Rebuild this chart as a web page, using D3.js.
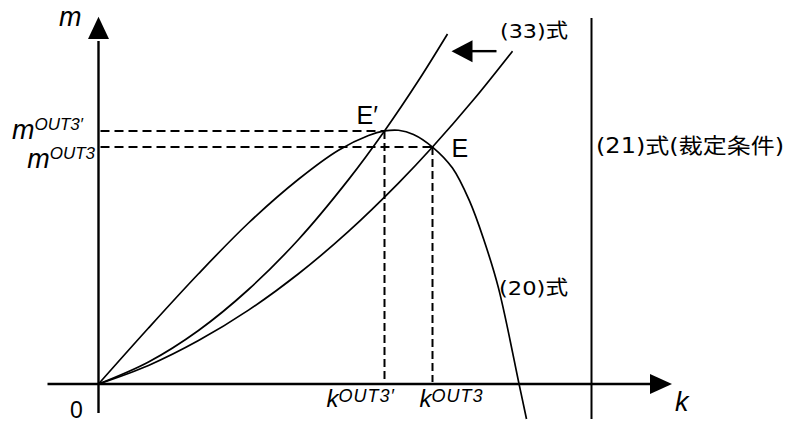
<!DOCTYPE html>
<html>
<head>
<meta charset="utf-8">
<script src="https://cdn.jsdelivr.net/npm/d3@7"></script>
<style>
  html, body { margin: 0; padding: 0; background: #fff; }
  svg { display: block; }
  .lat { font-family: "Liberation Sans", Arial, sans-serif; fill: #000; }
  .jp { font-family: "DejaVu Sans", "Noto Sans CJK JP", sans-serif; fill: #000; }
</style>
</head>
<body>
<svg id="chart" width="786" height="422"></svg>
<script>
// (20)式: m as a function of k — rises, peaks near E′, then falls steeply
const curve20K = [0, 10, 20, 30, 40, 48, 54, 57.2, 60, 63, 66.8, 70.8, 74.2, 77, 80, 84.2, 85.6];
const curve20M = [0, 16.0, 31.5, 46.0, 58.5, 66.8, 71.0, 72.3, 72.5, 71.3, 67.7, 61.7, 52.3, 41.5, 27.4, -0.6, -10.0];

// (33)式 after the shift (passes through E′)
const line33ShiftK = [0, 10, 20, 30, 40, 50, 57.2, 64, 69.8];
const line33ShiftM = [0, 6.3, 15.3, 27.0, 41.3, 58.4, 72.3, 86.7, 100.0];

// (33)式 before the shift (passes through E)
const line33K = [0, 10, 20, 30, 40, 50, 60, 66.8, 75, 82.8];
const line33M = [0, 5.3, 12.4, 21.1, 31.5, 43.6, 57.4, 67.7, 81.2, 95.1];

// Equilibria
const eqNames = ["E′", "E"];
const eqK = [57.2, 66.8];
const eqM = [72.3, 67.7];

// Tick labels at the equilibrium values
const kTickLabels = [["k", "OUT3′"], ["k", "OUT3"]];
const mTickLabels = [["m", "OUT3′"], ["m", "OUT3"]];

// (21)式: arbitrage condition, a vertical line in k
const line21K = 98.6;

const svg = d3.select("#chart");

const x = d3.scaleLinear().domain([0, 100]).range([98.5, 598.5]);
const y = d3.scaleLinear().domain([0, 100]).range([384, 34]);

const zip = (ks, ms) => ks.map((k, i) => [k, ms[i]]);
const line = d3.line().x(d => x(d[0])).y(d => y(d[1])).curve(d3.curveCatmullRom.alpha(0.5));

// axes with arrowheads
const axisG = svg.append("g");
axisG.append("line")
  .attr("x1", x(-10.2)).attr("x2", x(110.5))
  .attr("y1", y(0)).attr("y2", y(0))
  .attr("stroke", "#000").attr("stroke-width", 2.4);
axisG.append("path")
  .attr("d", `M${x(114.7)},${y(0)} L${x(110.3)},${y(0) - 10} L${x(110.3)},${y(0) + 10} Z`)
  .attr("fill", "#000");
axisG.append("line")
  .attr("x1", x(0)).attr("x2", x(0))
  .attr("y1", y(-8.3)).attr("y2", y(98))
  .attr("stroke", "#000").attr("stroke-width", 2.4);
axisG.append("path")
  .attr("d", `M${x(0)},${y(104.9)} L${x(0) - 10.5},${y(98.6)} L${x(0) + 10.5},${y(98.6)} Z`)
  .attr("fill", "#000");

// dashed guides from the equilibria to both axes
const guides = svg.append("g")
  .attr("stroke", "#000").attr("stroke-width", 2).attr("stroke-dasharray", "9,5").attr("fill", "none");
eqK.forEach((k, i) => {
  guides.append("line")
    .attr("x1", x(0) + 2).attr("x2", x(k))
    .attr("y1", y(eqM[i])).attr("y2", y(eqM[i]));
  guides.append("line")
    .attr("x1", x(k)).attr("x2", x(k))
    .attr("y1", y(eqM[i])).attr("y2", y(0) - 2)
    .attr("stroke-dasharray", "8,4");
});

// curves
const curves = svg.append("g").attr("fill", "none").attr("stroke", "#000").attr("stroke-width", 1.7);
curves.append("path").attr("d", line(zip(curve20K, curve20M)));
curves.append("path").attr("d", line(zip(line33ShiftK, line33ShiftM)));
curves.append("path").attr("d", line(zip(line33K, line33M)));

// (21)式 vertical line
svg.append("line")
  .attr("x1", x(line21K)).attr("x2", x(line21K))
  .attr("y1", y(104.6)).attr("y2", y(-10))
  .attr("stroke", "#000").attr("stroke-width", 2);

// shift arrow for (33)式
const arrowY = y(95.1);
svg.append("line")
  .attr("x1", x(79.6)).attr("x2", x(74))
  .attr("y1", arrowY).attr("y2", arrowY)
  .attr("stroke", "#000").attr("stroke-width", 2.4);
svg.append("path")
  .attr("d", `M${x(70.6)},${arrowY} L${x(74.8)},${arrowY - 11} L${x(74.8)},${arrowY + 11} Z`)
  .attr("fill", "#000");

// axis titles
svg.append("text").attr("class", "lat").attr("x", 59).attr("y", 26)
  .attr("font-size", 27).attr("font-style", "italic").text("m");
svg.append("text").attr("class", "lat").attr("x", 675).attr("y", 411)
  .attr("font-size", 27).attr("font-style", "italic").text("k");
svg.append("text").attr("class", "lat").attr("x", 70).attr("y", 418)
  .attr("font-size", 23).text("0");

// equilibrium labels
const eqOffsets = [[-28, -7], [19, 10]];
eqK.forEach((k, i) => {
  svg.append("text").attr("class", "lat")
    .attr("x", x(k) + eqOffsets[i][0]).attr("y", y(eqM[i]) + eqOffsets[i][1])
    .attr("font-size", 25).text(eqNames[i]);
});

// k tick labels
const kLabelStart = [-58, -13];
kTickLabels.forEach((t, i) => {
  const tx = svg.append("text").attr("class", "lat")
    .attr("x", x(eqK[i]) + kLabelStart[i]).attr("y", 407)
    .attr("font-size", 24).attr("font-style", "italic");
  tx.append("tspan").text(t[0]);
  tx.append("tspan").attr("font-size", 18).attr("dy", -5).attr("letter-spacing", 1).text(t[1]);
});

// m tick labels
const mLabelEnd = [83, 95];
const mLabelDy = [8, 21];
mTickLabels.forEach((t, i) => {
  const tx = svg.append("text").attr("class", "lat")
    .attr("x", mLabelEnd[i]).attr("y", y(eqM[i]) + mLabelDy[i])
    .attr("text-anchor", "end")
    .attr("font-size", 27).attr("font-style", "italic");
  tx.append("tspan").text(t[0]);
  tx.append("tspan").attr("font-size", 17).attr("dy", -9).text(t[1]);
});

// equation labels
svg.append("text").attr("class", "jp").attr("x", 500).attr("y", 38)
  .attr("font-size", 20).attr("textLength", 68).attr("lengthAdjust", "spacingAndGlyphs").text("(33)式");
svg.append("text").attr("class", "jp").attr("x", 499).attr("y", 295)
  .attr("font-size", 20).attr("textLength", 69).attr("lengthAdjust", "spacingAndGlyphs").text("(20)式");
svg.append("text").attr("class", "jp").attr("x", 596).attr("y", 153)
  .attr("font-size", 21).attr("textLength", 188).attr("lengthAdjust", "spacingAndGlyphs").text("(21)式(裁定条件)");
</script>
</body>
</html>
